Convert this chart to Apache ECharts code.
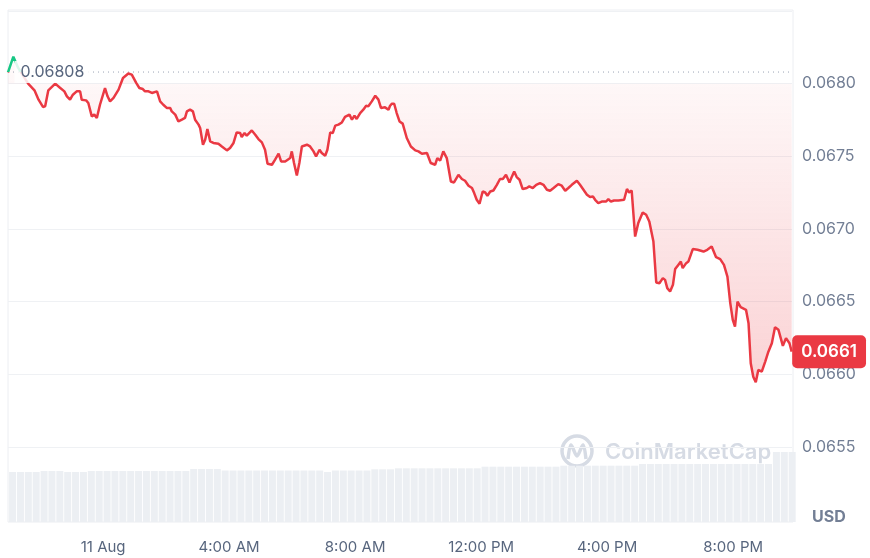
<!DOCTYPE html>
<html>
<head>
<meta charset="utf-8">
<title>Price chart</title>
<script src="https://cdn.jsdelivr.net/npm/echarts@6/dist/echarts.min.js"></script>
<style>
  html, body { margin: 0; padding: 0; background: #fff; }
  #chart { width: 870px; height: 558px; }
</style>
</head>
<body>
<div id="chart"></div>
<script>
// time in hours from 11 Aug 00:00, price in USD
var hours = [
  -3.02, -2.85, -2.70, -2.38, -2.18, -2.05, -1.91, -1.84, -1.74, -1.52, -1.37, -1.23, -1.15, -1.05, -0.96, -0.84,
  -0.73, -0.68, -0.54, -0.47, -0.36, -0.28, -0.20, -0.10, 0.06, 0.14, 0.22, 0.33, 0.49, 0.63, 0.80, 0.91,
  1.05, 1.15, 1.26, 1.33, 1.44, 1.55, 1.71, 1.81, 1.91, 2.02, 2.13, 2.18, 2.29, 2.39, 2.50, 2.60,
  2.66, 2.76, 2.85, 2.92, 3.03, 3.08, 3.17, 3.24, 3.31, 3.40, 3.50, 3.66, 3.77, 3.93, 4.03, 4.14,
  4.24, 4.35, 4.40, 4.49, 4.56, 4.72, 4.83, 4.93, 5.04, 5.14, 5.22, 5.36, 5.46, 5.57, 5.65, 5.78,
  5.94, 5.99, 6.06, 6.15, 6.23, 6.31, 6.47, 6.57, 6.68, 6.76, 6.87, 6.94, 7.05, 7.12, 7.21, 7.29,
  7.37, 7.47, 7.58, 7.68, 7.82, 7.90, 7.98, 8.05, 8.16, 8.26, 8.35, 8.42, 8.53, 8.64, 8.74, 8.82,
  8.95, 9.06, 9.11, 9.17, 9.24, 9.32, 9.41, 9.51, 9.64, 9.77, 9.91, 10.01, 10.12, 10.28, 10.33, 10.40,
  10.54, 10.61, 10.70, 10.80, 10.91, 11.04, 11.14, 11.28, 11.39, 11.49, 11.60, 11.71, 11.78, 11.86, 11.95, 12.05,
  12.13, 12.20, 12.29, 12.39, 12.50, 12.60, 12.69, 12.79, 12.90, 12.98, 13.05, 13.13, 13.22, 13.32, 13.45, 13.53,
  13.64, 13.75, 13.87, 13.98, 14.09, 14.19, 14.30, 14.45, 14.56, 14.67, 14.77, 14.88, 15.04, 15.14, 15.25, 15.36,
  15.46, 15.55, 15.62, 15.72, 15.83, 15.97, 16.04, 16.12, 16.22, 16.36, 16.54, 16.63, 16.70, 16.78, 16.89, 16.99,
  17.13, 17.24, 17.34, 17.47, 17.56, 17.66, 17.77, 17.84, 17.91, 18.00, 18.09, 18.16, 18.26, 18.34, 18.40, 18.51,
  18.58, 18.72, 18.87, 19.06, 19.18, 19.32, 19.46, 19.59, 19.71, 19.82, 19.91, 19.99, 20.06, 20.14, 20.24, 20.41,
  20.49, 20.56, 20.64, 20.72, 20.80, 20.91, 21.02, 21.12, 21.23, 21.33, 21.44, 21.58, 21.68, 21.79, 21.86
]
var prices = [
  0.068078, 0.068186, 0.068110, 0.068000, 0.067954, 0.067890, 0.067840, 0.067844, 0.067954, 0.068000, 0.067972, 0.067947, 0.067913, 0.067890, 0.067924, 0.067947,
  0.067947, 0.067890, 0.067885, 0.067867, 0.067775, 0.067787, 0.067764, 0.067855, 0.067970, 0.067913, 0.067878, 0.067902, 0.067959, 0.068039, 0.068070, 0.068062,
  0.068005, 0.067970, 0.067963, 0.067947, 0.067947, 0.067936, 0.067947, 0.067878, 0.067855, 0.067833, 0.067833, 0.067809, 0.067787, 0.067740, 0.067752, 0.067764,
  0.067809, 0.067821, 0.067809, 0.067752, 0.067718, 0.067695, 0.067580, 0.067614, 0.067688, 0.067603, 0.067592, 0.067587, 0.067568, 0.067541, 0.067557, 0.067592,
  0.067665, 0.067660, 0.067633, 0.067660, 0.067642, 0.067678, 0.067649, 0.067619, 0.067596, 0.067545, 0.067449, 0.067442, 0.067477, 0.067518, 0.067465, 0.067465,
  0.067488, 0.067534, 0.067454, 0.067368, 0.067454, 0.067568, 0.067580, 0.067568, 0.067534, 0.067499, 0.067545, 0.067523, 0.067504, 0.067545, 0.067665, 0.067660,
  0.067711, 0.067718, 0.067733, 0.067771, 0.067787, 0.067752, 0.067780, 0.067757, 0.067798, 0.067821, 0.067848, 0.067844, 0.067878, 0.067917, 0.067890, 0.067833,
  0.067837, 0.067821, 0.067848, 0.067862, 0.067862, 0.067798, 0.067740, 0.067725, 0.067626, 0.067568, 0.067541, 0.067534, 0.067518, 0.067523, 0.067534, 0.067454,
  0.067442, 0.067488, 0.067470, 0.067534, 0.067488, 0.067327, 0.067320, 0.067373, 0.067344, 0.067332, 0.067298, 0.067282, 0.067247, 0.067201, 0.067174, 0.067258,
  0.067251, 0.067229, 0.067258, 0.067265, 0.067304, 0.067344, 0.067344, 0.067373, 0.067320, 0.067362, 0.067396, 0.067357, 0.067339, 0.067275, 0.067282, 0.067293,
  0.067282, 0.067304, 0.067316, 0.067304, 0.067270, 0.067263, 0.067282, 0.067309, 0.067298, 0.067263, 0.067282, 0.067304, 0.067332, 0.067304, 0.067270, 0.067236,
  0.067220, 0.067224, 0.067201, 0.067178, 0.067189, 0.067189, 0.067206, 0.067189, 0.067196, 0.067196, 0.067201, 0.067275, 0.067251, 0.067265, 0.066948, 0.067041,
  0.067114, 0.067098, 0.067052, 0.066914, 0.066632, 0.066627, 0.066662, 0.066650, 0.066593, 0.066570, 0.066616, 0.066724, 0.066753, 0.066776, 0.066731, 0.066765,
  0.066776, 0.066862, 0.066857, 0.066845, 0.066857, 0.066879, 0.066806, 0.066793, 0.066753, 0.066673, 0.066490, 0.066375, 0.066329, 0.066501, 0.066462, 0.066444,
  0.066352, 0.066076, 0.065984, 0.065946, 0.066030, 0.066019, 0.066088, 0.066156, 0.066214, 0.066324, 0.066306, 0.066196, 0.066249, 0.066214, 0.066156
]
var openPrice = 0.06808

// volume, one bar per 15 minutes (relative units)
var volStart = -2.875
var volStep = 0.25
var volumes = [
  50, 50, 50, 50, 51, 51, 51, 50, 50, 50,
  51, 51, 51, 51, 51, 51, 51, 51, 51, 51,
  51, 51, 51, 53, 53, 53, 53, 51.5, 51.5, 51.5,
  51.5, 51.5, 51.5, 51.5, 51.5, 51.5, 51.5, 51.5, 51.5, 51.5,
  50, 51.5, 51.5, 51.5, 51.5, 51.5, 52.7, 52.7, 52.7, 53.7,
  53.7, 53.7, 53.7, 53.7, 53.7, 53.7, 53.7, 53.7, 53.7, 53.7,
  55.3, 55.3, 55.3, 55.3, 55.3, 55.3, 55.3, 55.3, 55.3, 55.3,
  56.3, 56.3, 56.3, 56.3, 56.3, 56.3, 56.3, 56.3, 56.3, 56.3,
  58, 58, 58, 58, 58, 58, 58, 58, 58, 58,
  58, 58, 58, 58, 58, 58, 58, 70, 70, 70
]

var timeTicks = [0, 4, 8, 12, 16, 20]
var timeLabels = ['11 Aug', '4:00 AM', '8:00 AM', '12:00 PM', '4:00 PM', '8:00 PM']
var priceMin = 0.0655
var priceMax = 0.0685
var priceStep = 0.0005

var red = '#ea3943'
var green = '#16c784'
var font = 'Inter, "Noto Sans", sans-serif'

var priceData = hours.map(function (h, i) { return [h, prices[i]] })
var volData = volumes.map(function (v, i) { return [volStart + i * volStep, v] })
var firstHour = hours[0]
var lastHour = hours[hours.length - 1]
var lastPrice = prices[prices.length - 1]

var myChart = echarts.init(document.getElementById('chart'))

var option = {
  animation: false,
  textStyle: { fontFamily: font },
  grid: [
    { left: 8, right: 78, top: 11, bottom: 111 },
    { left: 8, right: 78, top: 422, bottom: 36 }
  ],
  xAxis: [
    {
      type: 'value', gridIndex: 0, min: firstHour, max: lastHour + 0.01,
      axisLine: { show: false }, axisTick: { show: false }, axisLabel: { show: false }, splitLine: { show: false }
    },
    {
      type: 'value', gridIndex: 1, min: firstHour, max: lastHour + 0.01,
      axisLine: { show: false }, axisTick: { show: false }, splitLine: { show: false },
      axisLabel: {
        customValues: timeTicks,
        margin: 18,
        color: '#58667e',
        fontSize: 15,
        formatter: function (v) { return timeLabels[timeTicks.indexOf(Math.round(v))] || '' }
      }
    }
  ],
  yAxis: [
    {
      type: 'value', gridIndex: 0, position: 'right',
      min: priceMin, max: priceMax, interval: priceStep,
      axisLine: { show: false }, axisTick: { show: false },
      splitLine: { lineStyle: { color: '#eff1f4' } },
      axisLabel: {
        margin: 10, color: '#737f95', fontSize: 16,
        formatter: function (v) { return v > priceMax - priceStep / 2 ? '' : v.toFixed(4) }
      }
    },
    {
      type: 'value', gridIndex: 1, min: 0, max: 100, show: false
    }
  ],
  visualMap: {
    type: 'piecewise', show: false, seriesIndex: 0, dimension: 1,
    min: priceMin, max: priceMax,
    pieces: [
      { gt: openPrice, lte: priceMax, color: green },
      { gte: priceMin, lte: openPrice, color: red }
    ]
  },
  series: [
    {
      name: 'price',
      type: 'line', xAxisIndex: 0, yAxisIndex: 0,
      data: priceData,
      symbol: 'none',
      lineStyle: { width: 2.5 },
      areaStyle: {
        origin: 0.0680,
        color: new echarts.graphic.LinearGradient(0, 0, 0, 1, [
          { offset: 0, color: 'rgba(234,57,67,0.03)' },
          { offset: 1, color: 'rgba(234,57,67,0.32)' }
        ])
      },
      z: 3
    },
    {
      name: 'open',
      type: 'line', xAxisIndex: 0, yAxisIndex: 0,
      data: [[firstHour, openPrice], [lastHour, openPrice]],
      symbol: 'none',
      silent: true,
      lineStyle: { color: '#9aa3b5', type: [1, 4], width: 1 },
      z: 2
    },
    {
      name: 'tags',
      type: 'scatter', xAxisIndex: 0, yAxisIndex: 0,
      symbolSize: 1,
      itemStyle: { color: 'rgba(0,0,0,0)', opacity: 1 },
      silent: true,
      z: 5,
      data: [
        {
          value: [firstHour, openPrice],
          label: {
            show: true, position: 'right', distance: 6,
            formatter: String(openPrice),
            color: '#58667e', fontSize: 16,
            backgroundColor: 'rgba(255,255,255,0.85)',
            padding: [3, 6]
          }
        },
        {
          value: [lastHour, lastPrice],
          label: {
            show: true, position: 'right', distance: 0,
            formatter: (Math.floor(lastPrice * 1e4) / 1e4).toFixed(4),
            color: '#fff', fontSize: 17, fontWeight: 600,
            backgroundColor: red, borderRadius: 5,
            padding: [8, 9, 8, 9]
          }
        }
      ]
    },
    {
      name: 'volume',
      type: 'bar', xAxisIndex: 1, yAxisIndex: 1,
      data: volData,
      barWidth: 7,
      itemStyle: { color: '#eceff3' },
      z: 1
    }
  ],
  graphic: [
    {
      type: 'rect', silent: true, z: -1,
      shape: { x: 8, y: 10, width: 785, height: 512 },
      style: { fill: 'none', stroke: '#eceef2', lineWidth: 1 }
    },
    {
      type: 'text', left: 812, top: 509,
      style: { text: 'USD', fill: '#737f95', font: 'bold 16px ' + font }
    },
    {
      type: 'group', silent: true, z: 0,
      children: [
        {
          type: 'circle', shape: { cx: 577, cy: 451, r: 15 },
          style: { fill: 'none', stroke: '#d6dbe4', lineWidth: 3.5 }
        },
        {
          type: 'polyline',
          shape: { points: [[568, 459], [571, 445], [577, 456], [583, 445], [586, 459]], smooth: 0.3 },
          style: { fill: 'none', stroke: '#d6dbe4', lineWidth: 3.5 }
        },
        {
          type: 'text', x: 605, y: 452,
          style: { text: 'CoinMarketCap', fill: '#d6dbe4', font: '600 22px ' + font, verticalAlign: 'middle' }
        }
      ]
    }
  ]
}

myChart.setOption(option)
</script>
</body>
</html>
